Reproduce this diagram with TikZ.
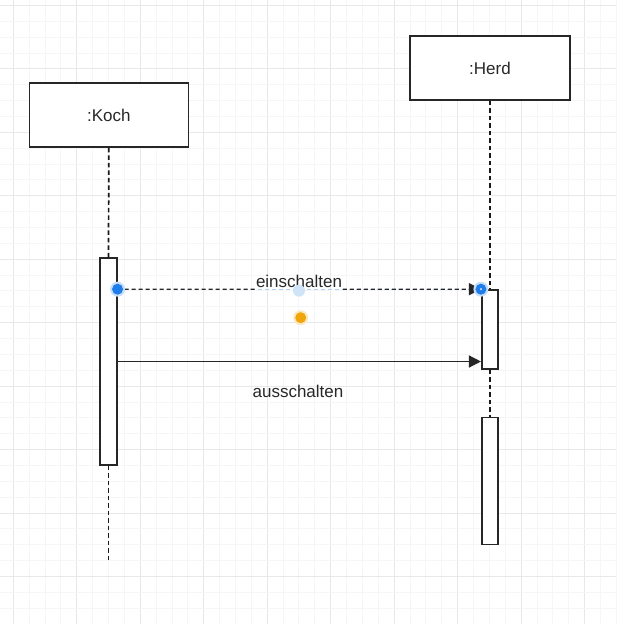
\documentclass[tikz,border=0pt]{standalone}
\usepackage{fontspec}
\setmainfont{Liberation Sans}
\usetikzlibrary{arrows.meta,calc}
\definecolor{gridminor}{RGB}{246,246,248}
\definecolor{gridmajor}{RGB}{232,232,235}
\definecolor{txt}{RGB}{40,40,40}
\definecolor{handleblue}{RGB}{30,125,235}
\definecolor{handlelight}{RGB}{175,210,245}
\definecolor{handleorange}{RGB}{240,165,10}
\tikzset{
  objbox/.style={draw=black!85, line width=1.6pt, fill=white, minimum width=159pt, minimum height=64pt, inner sep=0pt, text=txt, font=\fontsize{17}{20}\selectfont},
  actbox/.style={draw=black!85, line width=1.6pt, fill=white, minimum width=16.5pt, inner sep=0pt},
  lifeline/.style={draw=black!90, line width=1.7pt, dash pattern=on 4.5pt off 3pt},
  msglabel/.style={inner sep=0pt, text=txt, font=\fontsize{17}{20}\selectfont},
  msgline/.style={draw=black!85, line width=1.4pt},
  msgarrow/.style={-{Triangle[length=12pt,width=12pt]}},
}
\begin{document}
\begin{tikzpicture}[x=1pt,y=-1pt]
\useasboundingbox (0,0) rectangle (616,624);
\fill[white] (0,0) rectangle (616,624);
% grid
\foreach \i in {0,...,38}{
  \pgfmathsetmacro{\gx}{13.3+15.87*\i}
  \pgfmathtruncatemacro{\m}{mod(\i,4)}
  \ifnum\m=0 \draw[gridmajor, line width=1pt] (\gx,0) -- (\gx,624);
  \else \draw[gridminor, line width=1pt] (\gx,0) -- (\gx,624); \fi
}
\foreach \j in {0,...,39}{
  \pgfmathsetmacro{\gy}{5.5+15.86*\j}
  \pgfmathtruncatemacro{\m}{mod(\j,4)}
  \ifnum\m=0 \draw[gridmajor, line width=1pt] (0,\gy) -- (616,\gy);
  \else \draw[gridminor, line width=1pt] (0,\gy) -- (616,\gy); \fi
}
% lifeline heads
\node[objbox] (koch) at (108.8,115) {:Koch};
\node[objbox, minimum width=160pt] (herd) at (490,68) {:Herd};
% activations
\node[actbox, minimum height=207pt] (kact) at (108.5,361.5) {};
\node[actbox, minimum height=79pt] (hact1) at (490,329.5) {};
\node[actbox, minimum height=127pt] (hact2) at (490,480.8) {};
\coordinate (kend) at (108.5,560.7);
% lifelines
\draw[lifeline] (koch.south) -- (kact.north);
\draw[lifeline] (kact.south) -- (kend);
\draw[lifeline] (herd.south) -- (hact1.north);
\draw[lifeline] (hact1.south) -- (hact2.north);
% message 1 (selected)
\coordinate (m1s) at (kact.east |- hact1.north west);
\coordinate (m1e) at (hact1.north west);
\draw[line width=1.3pt, handlelight, dash pattern=on 4pt off 3pt] (m1s) -- (m1e);
\draw[msgline, dash pattern=on 4pt off 3pt] (m1s) -- ($(m1s)!0.38!(m1e)$);
\draw[msgline, dash pattern=on 4pt off 3pt, msgarrow] ($(m1s)!0.62!(m1e)$) -- (m1e);
\node[msglabel] (l1) at (299,281) {einschalten};
% message 2
\draw[msgline, msgarrow] (kact.east) -- (kact.east -| hact1.west);
\node[msglabel] (l2) at (298,391) {ausschalten};
% selection handles
\fill[handleblue!25] (m1s) circle (7.5pt);
\fill[handleblue] (m1s) circle (5.5pt);
\fill[handleblue!25] (m1e) circle (7.5pt);
\fill[handleblue] (m1e) circle (5.5pt);
\fill[white] (m1e) circle (1pt);
\fill[handlelight!60] (299,290.7) circle (6pt);
\fill[handleorange!25] (300.7,317.7) circle (7.5pt);
\fill[handleorange] (300.7,317.7) circle (5.5pt);
\end{tikzpicture}
\end{document}
